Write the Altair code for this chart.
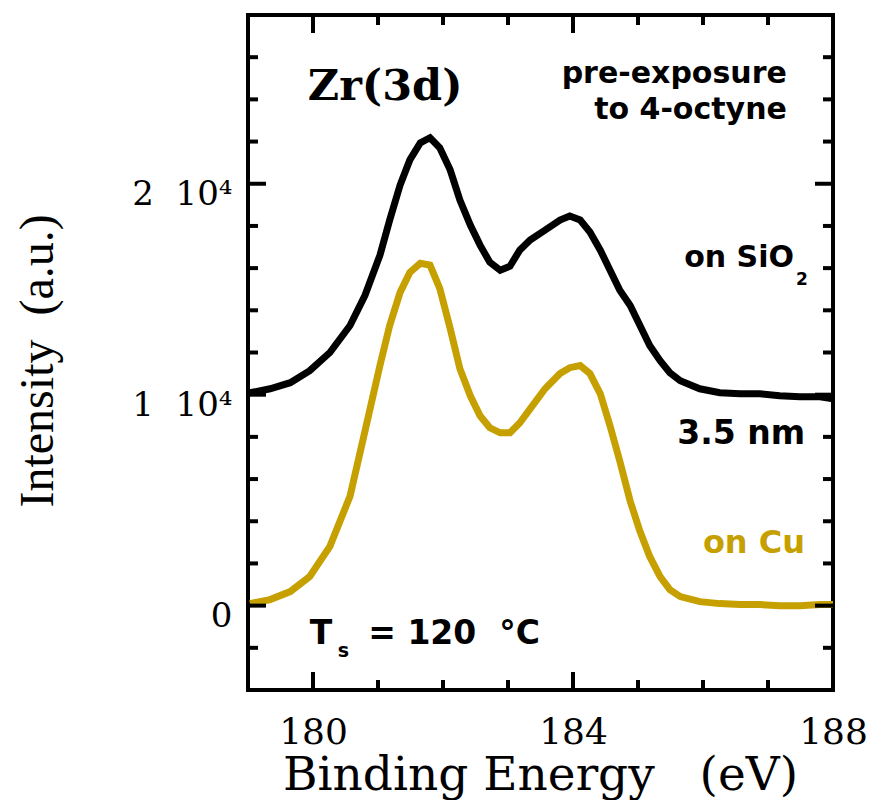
import altair as alt
import pandas as pd

# Binding energy (eV) sample positions
energy = [179.03, 179.34, 179.65, 179.95, 180.26, 180.57, 180.80, 181.03, 181.18, 181.34,
          181.49, 181.65, 181.80, 181.95, 182.11, 182.26, 182.42, 182.57, 182.72, 182.88,
          183.03, 183.18, 183.34, 183.57, 183.80, 183.95, 184.11, 184.26, 184.42, 184.57,
          184.72, 184.88, 185.03, 185.18, 185.34, 185.49, 185.65, 185.95, 186.26, 186.57,
          186.88, 187.18, 187.49, 187.80, 188.00]

# Intensity (a.u.) of the film on SiO2 (black)
sio2 = [10090, 10280, 10570, 11140, 12000, 13280, 14710, 16610, 18280, 19940,
        21130, 21940, 22180, 21710, 20660, 19230, 18040, 17090, 16280, 15900,
        16090, 16850, 17330, 17800, 18280, 18470, 18280, 17710, 16850, 15900,
        14950, 14230, 13280, 12330, 11610, 11040, 10660, 10280, 10090, 10040,
        10040, 9950, 9900, 9900, 9810]

# Intensity (a.u.) of the film on Cu (gold)
cu = [95, 286, 666, 1380, 2810, 5190, 8280, 11380, 13280, 14850,
      15800, 16230, 16140, 15040, 13140, 11230, 9950, 9000, 8430, 8190,
      8190, 8660, 9330, 10280, 11000, 11280, 11380, 11000, 10040, 8520,
      6850, 4950, 3520, 2330, 1380, 760, 430, 190, 95, 50,
      50, 0, 0, 50, 50]

series_names = ["on SiO2", "on Cu"]
series_colors = ["#000000", "#C6A000"]

x_major = [180, 184, 188]
x_minor = [181, 182, 183, 185, 186, 187]
y_major = [0, 10000, 20000]
y_minor = [-2000, 2000, 4000, 6000, 8000, 12000, 14000, 16000, 18000, 22000, 24000, 26000]

NB = "\u00a0"

# annotations: (x in eV, y in intensity)
sans_text = ["pre-exposure", "to 4-octyne", "on SiO", "3.5 nm"]
sans_x = [187.29, 187.29, 187.40, 187.57]
sans_y = [24800, 23090, 16040, 7660]
sans_size = [30, 30, 30, 33]

W, H = 585, 675
xs = alt.Scale(domain=[179, 188], nice=False, zero=False)
ys = alt.Scale(domain=[-4000, 28000], nice=False, zero=False)

df = pd.DataFrame({
    "energy": energy + energy,
    "intensity": sio2 + cu,
    "series": [series_names[0]] * len(energy) + [series_names[1]] * len(energy),
})

x_axis = alt.Axis(values=x_major, format="d", labelFont="DejaVu Serif", labelFontSize=36,
                  labelColor="black", labelPadding=25, labelFlush=False, labelOverlap=False,
                  tickSize=0, domain=False, grid=False, ticks=False,
                  title="Binding Energy" + NB * 3 + "(eV)", titleFont="DejaVu Serif",
                  titleFontSize=47, titleFontWeight="normal", titleColor="black",
                  titleX=292, titleY=99, titleAlign="center", titleBaseline="alphabetic")
y_axis = alt.Axis(values=y_major,
                  labelExpr="datum.value == 0 ? '0' : (datum.value / 10000) + '" + NB * 2 + "10\u2074'",
                  labelFont="DejaVu Serif", labelFontSize=34, labelColor="black",
                  labelPadding=16, labelOffset=11, tickSize=0, domain=False, grid=False, ticks=False,
                  title="Intensity" + NB * 2 + "(a.u.)", titleFont="Liberation Serif", titleFontSize=48,
                  titleFontWeight="normal", titleColor="black", titleAngle=270,
                  titleX=-196, titleY=492, titleAlign="left", titleBaseline="alphabetic")

lines = alt.Chart(df).mark_line(strokeWidth=7, clip=True).encode(
    x=alt.X("energy:Q", scale=xs, axis=x_axis),
    y=alt.Y("intensity:Q", scale=ys, axis=y_axis),
    color=alt.Color("series:N", scale=alt.Scale(domain=series_names, range=series_colors), legend=None),
)

def vdf(v):
    return pd.DataFrame({"energy": v, "intensity": v})

tick_layers = []
for vals, ln in [(y_major, 18), (y_minor, 10)]:
    tick_layers.append(alt.Chart(vdf(vals)).mark_rule(color="black", strokeWidth=4).encode(
        y=alt.Y("intensity:Q", scale=ys, axis=y_axis), x=alt.value(0), x2=alt.value(ln)))
    tick_layers.append(alt.Chart(vdf(vals)).mark_rule(color="black", strokeWidth=4).encode(
        y=alt.Y("intensity:Q", scale=ys, axis=y_axis), x=alt.value(W), x2=alt.value(W - ln)))
for vals, ln in [(x_major, 18), (x_minor, 10)]:
    tick_layers.append(alt.Chart(vdf(vals)).mark_rule(color="black", strokeWidth=4).encode(
        x=alt.X("energy:Q", scale=xs, axis=x_axis), y=alt.value(H), y2=alt.value(H - ln)))
    tick_layers.append(alt.Chart(vdf(vals)).mark_rule(color="black", strokeWidth=4).encode(
        x=alt.X("energy:Q", scale=xs, axis=x_axis), y=alt.value(0), y2=alt.value(ln)))

def txt(frame, size, color="black", align="left", font="DejaVu Sans"):
    enc = dict(x=alt.X("energy:Q", scale=xs, axis=x_axis),
               y=alt.Y("intensity:Q", scale=ys, axis=y_axis), text="t:N")
    return alt.Chart(frame).mark_text(font=font, fontWeight="bold", align=align,
                                      baseline="alphabetic", fontSize=size,
                                      color=color).encode(**enc)

sans_layers = [txt(pd.DataFrame({"t": [t], "energy": [x], "intensity": [y]}), s, align="right")
               for t, x, y, s in zip(sans_text, sans_x, sans_y, sans_size)]

sub2 = txt(pd.DataFrame({"t": ["2"], "energy": [187.43], "intensity": [15190]}), 17)
cu_lbl = txt(pd.DataFrame({"t": ["on Cu"], "energy": [187.57], "intensity": [2475]}), 32,
             color=series_colors[1], align="right")
ts = txt(pd.DataFrame({"t": ["T", "=" + NB + "120" + NB * 2 + "\u00b0C"], "energy": [179.95, 180.85],
                       "intensity": [-1810, -1810]}), 33)
ts_sub = txt(pd.DataFrame({"t": ["s"], "energy": [180.38], "intensity": [-2430]}), 19)
zr = txt(pd.DataFrame({"t": ["Zr(3d)"], "energy": [179.92], "intensity": [23990]}), 43,
         font="DejaVu Serif")

chart = alt.layer(lines, *tick_layers, *sans_layers, sub2, cu_lbl, ts, ts_sub, zr).properties(
    width=W, height=H,
    autosize=alt.AutoSizeParams(type="none"),
    padding={"left": 248, "top": 15, "right": 39, "bottom": 110},
    background="white",
).configure_view(stroke="black", strokeWidth=4)

chart.save("out.html", embed_options={"renderer": "svg", "actions": False})
